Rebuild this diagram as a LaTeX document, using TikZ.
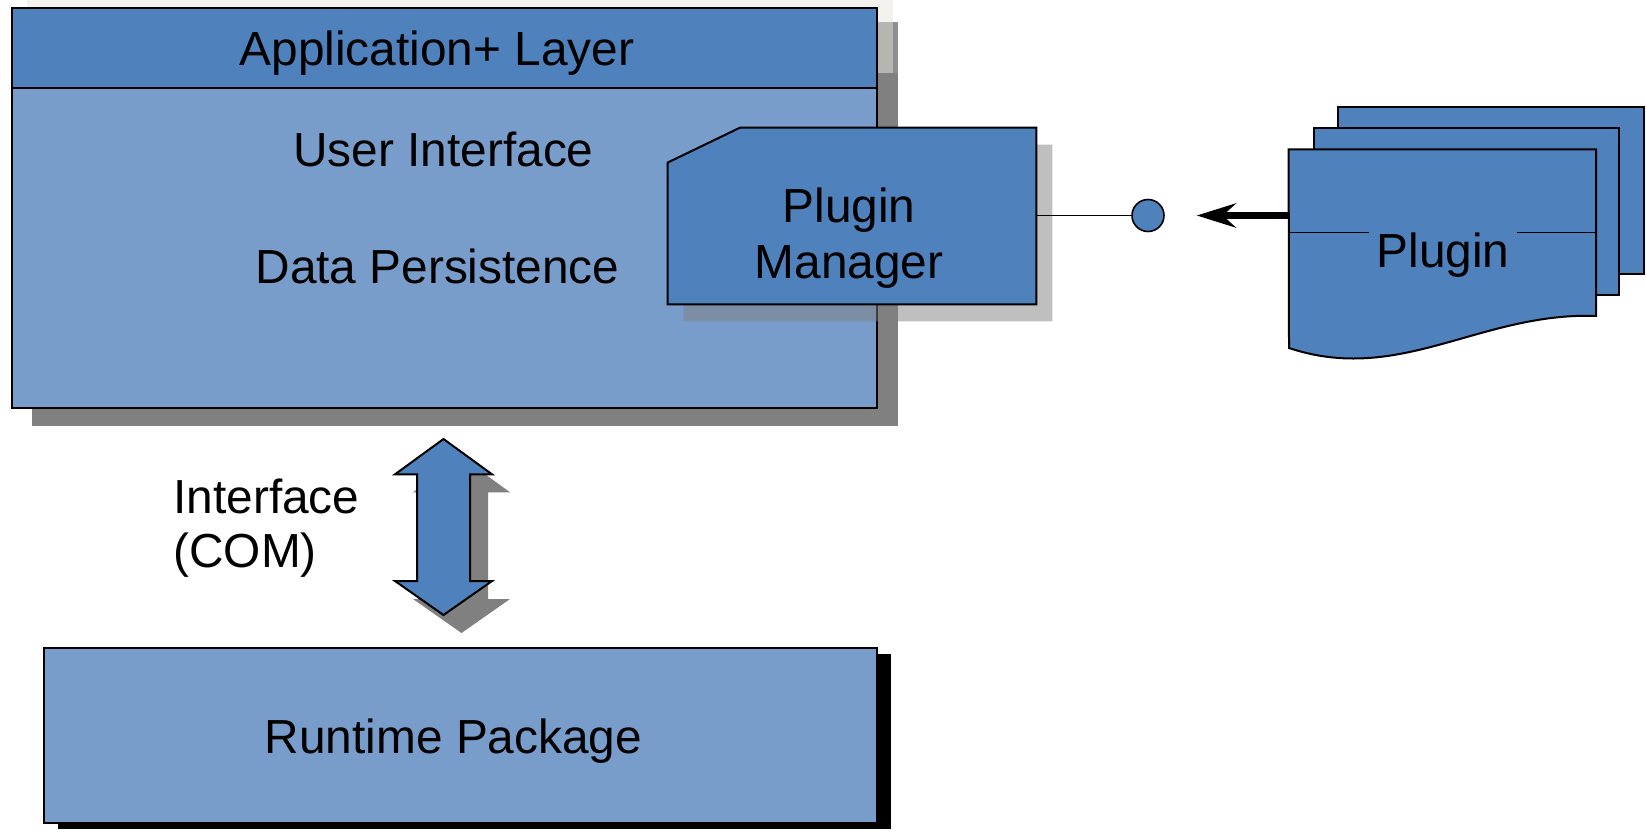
\documentclass[tikz,border=0pt]{standalone}
\usepackage{fontspec}
\setmainfont{Liberation Sans}
\usepackage{xcolor}
\definecolor{LayerBlue} {HTML}{4F81BD}
\definecolor{LayerLight}{HTML}{789DCB}
\definecolor{PaperTint} {HTML}{F3F2EE}
\definecolor{ShadeLight}{HTML}{B6B6B1}
\definecolor{ShadeMid}  {HTML}{8E8E8E}
\definecolor{ShadeDark} {HTML}{808080}
\usetikzlibrary{arrows.meta,positioning,fit,calc,shadows}

\tikzset{
  boxline/.style={draw=black,line width=1pt},
  lbl/.style={font=\fontsize{23.9}{28.3}\selectfont,inner sep=0pt},
  wire/.style={draw=black,line width=0.75pt},
  feed/.style={draw=black,line width=3.9pt,
    -{Stealth[length=19.5pt,width=12pt,inset=6.5pt]}},
}

\begin{document}
\begin{tikzpicture}[x=0.5pt,y=-0.5pt]
  \useasboundingbox (0,0) rectangle (1647,831);
  % tinted strip and shadow behind the application layer
  \fill[PaperTint] (26.7,0) rectangle (893,22);
  \fill[ShadeLight] (876,22) rectangle (893,73);
  \fill[ShadeMid] (893,22) rectangle (898,73);
  \fill[ShadeDark] (876,73) rectangle (898,425.7);
  \fill[ShadeDark] (31.6,407) rectangle (898,425.7);
  % application layer
  \node[boxline,fill=LayerLight,inner sep=0pt,
    fit={(11.5,7.5)(876.5,407.5)}] (app) {};
  \node[boxline,fill=LayerBlue,inner sep=0pt,
    fit={(11.5,7.5)(876.5,87.5)}] (apphead) {};
  \node[lbl,anchor=base] (apptitle) at (437,65) {Application+ Layer};
  \node[lbl,anchor=base] (ui) at (443.5,166.7) {User Interface};
  \node[lbl,anchor=base] (persist) at (437.5,283) {Data Persistence};
  % plugin manager
  \node[inner sep=0pt,fit={(668,128)(1036,304)}] (pm) {};
  \draw[boxline,fill=LayerBlue,
    drop shadow={shadow xshift=8pt,shadow yshift=-8.5pt,
      fill=ShadeDark,opacity=.5}]
    ($(pm.north west)+(0,35)$) -- ($(pm.north west)+(72.5,0)$)
    -- (pm.north east) -- (pm.south east) -- (pm.south west) -- cycle;
  \node[lbl,align=center,font=\fontsize{23.9}{28.3}\selectfont]
    (pmtext) at (849,238) {Plugin\\Manager};
  % plugin sheets
  \draw[boxline,fill=LayerBlue] (1338,106.8) rectangle (1644,274);
  \draw[boxline,fill=LayerBlue] (1314,128) rectangle (1619,295);
  \node[inner sep=0pt,fit={(1289,149.7)(1595.6,315.5)}] (plugin) {};
  \draw[boxline,fill=LayerBlue]
    (plugin.north west) -- (plugin.north east) -- (plugin.south east)
    .. controls (1480,312) and (1400,385) .. (1289,348) -- cycle;
  \draw[wire] (1289,232.6) -- (1595.6,232.6);
  \node[lbl,anchor=base,fill=LayerBlue,inner xsep=3.75pt,inner ysep=1.5pt]
    (plugintext) at (1443,267) {Plugin};
  % lollipop and feed arrow
  \node[circle,draw=black,line width=0.8pt,fill=LayerBlue,
    minimum size=16pt,inner sep=0pt] (pin) at (1148,215.5) {};
  \coordinate (intake) at (1196.7,215.5);
  \draw[wire] (pm.east |- pin) -- (pin.west);
  \draw[feed] (plugin.west |- intake) -- (intake);
  % interface arrow
  \draw[boxline,fill=LayerBlue,
    drop shadow={shadow xshift=9pt,shadow yshift=-9pt,
      fill=ShadeDark,opacity=1}]
    (443.5,439) -- (492,474.3) -- (470,474.3) -- (470,581) -- (492,581)
    -- (443.5,615) -- (395,581) -- (417,581) -- (417,474.3)
    -- (395,474.3) -- cycle;
  \node[lbl,align=left,anchor=west,font=\fontsize{23.9}{26.7}\selectfont]
    (com) at (173,528) {Interface\\(COM)};
  % runtime package
  \node[boxline,fill=LayerLight,inner sep=0pt,
    drop shadow={shadow xshift=7pt,shadow yshift=-3pt,
      fill=black,opacity=1},
    fit={(44.2,648)(876.5,823)}] (runtime) {};
  \node[lbl,anchor=base] (runtimetext) at (453.5,753.3) {Runtime Package};
\end{tikzpicture}
\end{document}
